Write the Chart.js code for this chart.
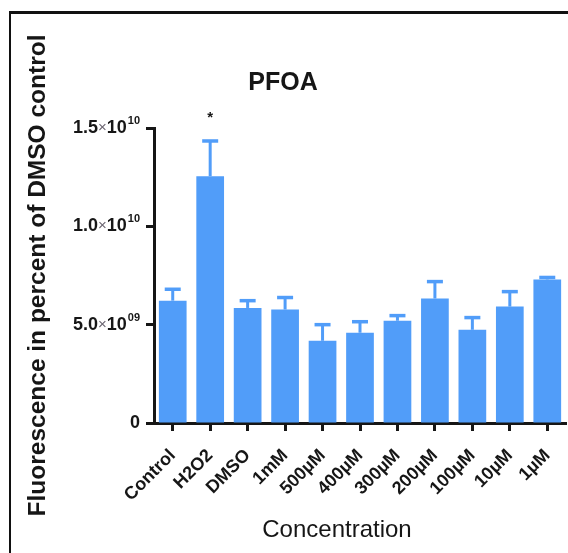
<!DOCTYPE html>
<html lang="en">
<head>
    <meta charset="UTF-8">
    <title>PFOA</title>
    <style>
        html, body {
            margin: 0;
            background: #fff;
            overflow: hidden;
        }
        .frame {
            position: absolute;
            left: 9px;
            top: 11px;
            width: 620px;
            height: 620px;
            border-top: 3px solid #111;
            border-left: 2px solid #111;
        }
        .container {
            position: absolute;
            left: 0;
            top: 0;
            width: 568px;
            height: 553px;
        }
    </style>
</head>
<body>
    <div class="frame"></div>
    <div class="container">
        <canvas id="myChart"></canvas>
    </div>
    <script src="https://cdn.jsdelivr.net/npm/chart.js@4/dist/chart.umd.min.js"></script>
    <script>
        const categories = ['Control', 'H2O2', 'DMSO', '1mM', '500µM', '400µM', '300µM', '200µM', '100µM', '10µM', '1µM'];
        const means = [6.22e9, 12.55e9, 5.85e9, 5.77e9, 4.18e9, 4.59e9, 5.2e9, 6.33e9, 4.74e9, 5.92e9, 7.3e9];
        const upperErr = [6.8e9, 14.34e9, 6.22e9, 6.38e9, 5.0e9, 5.15e9, 5.46e9, 7.19e9, 5.36e9, 6.68e9, 7.4e9];
        const yTicks = [0, 5e9, 1e10, 1.5e10];
        const yTickMantissa = ['0', '5.0', '1.0', '1.5'];
        const yTickExponent = ['', '09', '10', '10'];
        const markIndex = 1;
        const markValue = 1.565e10;

        const font = '"Liberation Sans", Arial, sans-serif';
        const blue = '#519df9';
        const ink = '#161616';

        const errorBars = {
            id: 'errorBars',
            afterDatasetsDraw(chart) {
                const ctx = chart.ctx;
                const y = chart.scales.y;
                const meta = chart.getDatasetMeta(0);
                ctx.save();
                ctx.strokeStyle = blue;
                meta.data.forEach((bar, i) => {
                    const top = y.getPixelForValue(upperErr[i]);
                    ctx.lineWidth = 3;
                    ctx.beginPath();
                    ctx.moveTo(bar.x, bar.y);
                    ctx.lineTo(bar.x, top);
                    ctx.stroke();
                    ctx.lineWidth = 3.5;
                    ctx.beginPath();
                    ctx.moveTo(bar.x - 8, top);
                    ctx.lineTo(bar.x + 8, top);
                    ctx.stroke();
                });
                // significance mark
                const x = meta.data[markIndex].x;
                ctx.fillStyle = ink;
                ctx.font = 'bold 15px ' + font;
                ctx.textAlign = 'center';
                ctx.textBaseline = 'middle';
                ctx.fillText('*', x, y.getPixelForValue(markValue) + 3);
                ctx.restore();
            },
            afterDraw(chart) {
                const ctx = chart.ctx;
                const y = chart.scales.y;
                ctx.save();
                ctx.fillStyle = ink;
                ctx.font = '24px ' + font;
                ctx.textAlign = 'center';
                ctx.textBaseline = 'middle';
                ctx.fillText('Concentration', 337, 530);

                // y tick labels with superscript exponents
                ctx.textAlign = 'left';
                const right = y.right - 8 - 6;
                yTicks.forEach((v, i) => {
                    const py = y.getPixelForValue(v);
                    const parts = yTickExponent[i] ? [
                        [yTickMantissa[i], 'bold 18px ', ink, 0],
                        ['×', '15px ', '#6a6470', 0],
                        ['10', 'bold 18px ', ink, 0],
                        [yTickExponent[i], 'bold 11px ', ink, -8]
                    ] : [[yTickMantissa[i], 'bold 18px ', ink, 0]];
                    let total = 0;
                    parts.forEach(p => { ctx.font = p[1] + font; total += ctx.measureText(p[0]).width + (p[3] ? 1 : 0); });
                    let x = right - total;
                    parts.forEach(p => {
                        ctx.font = p[1] + font;
                        ctx.fillStyle = p[2];
                        if (p[3]) x += 1;
                        ctx.textBaseline = p[3] ? 'alphabetic' : 'middle';
                        ctx.fillText(p[0], x, p[3] ? py + 4 + p[3] : py);
                        x += ctx.measureText(p[0]).width;
                    });
                });
                ctx.restore();
            }
        };

        const ctx = document.getElementById('myChart').getContext('2d');
        const myChart = new Chart(ctx, {
            type: 'bar',
            data: {
                labels: categories,
                datasets: [{
                    data: means,
                    backgroundColor: blue,
                    borderWidth: 0,
                    categoryPercentage: 1,
                    barPercentage: 0.74
                }]
            },
            plugins: [errorBars],
            options: {
                responsive: true,
                maintainAspectRatio: false,
                animation: false,
                layout: {
                    padding: { left: 0, right: 2, top: 0, bottom: 0 }
                },
                plugins: {
                    legend: { display: false },
                    tooltip: { enabled: false },
                    title: {
                        display: true,
                        text: 'PFOA',
                        color: ink,
                        font: { family: font, size: 25, weight: 'bold' },
                        padding: { top: 68, bottom: 30 }
                    }
                },
                scales: {
                    x: {
                        offset: true,
                        grid: {
                            drawOnChartArea: false,
                            offset: false,
                            tickLength: 8,
                            tickWidth: 3,
                            tickColor: ink
                        },
                        border: { color: ink, width: 3 },
                        ticks: {
                            color: ink,
                            font: { family: font, size: 18, weight: 'bold' },
                            minRotation: 45,
                            maxRotation: 45,
                            autoSkip: false,
                            padding: 14
                        },
                        afterFit: (s) => {
                            s.height = 130;
                            s.paddingLeft = 0;
                            s.paddingRight = 0;
                        }
                    },
                    y: {
                        min: 0,
                        max: 1.5e10,
                        afterBuildTicks: (s) => { s.ticks = yTicks.map(v => ({ value: v })); },
                        ticks: {
                            display: false
                        },
                        grid: {
                            drawOnChartArea: false,
                            tickLength: 8,
                            tickWidth: 3,
                            tickColor: ink
                        },
                        border: { color: ink, width: 3 },
                        title: {
                            display: true,
                            text: 'Fluorescence in percent of DMSO control',
                            color: ink,
                            font: { family: font, size: 24.5, weight: 'bold' },
                            padding: { top: 24, bottom: 0 }
                        },
                        afterFit: (s) => { s.width = 154; }
                    }
                }
            }
        });
    </script>
</body>
</html>
